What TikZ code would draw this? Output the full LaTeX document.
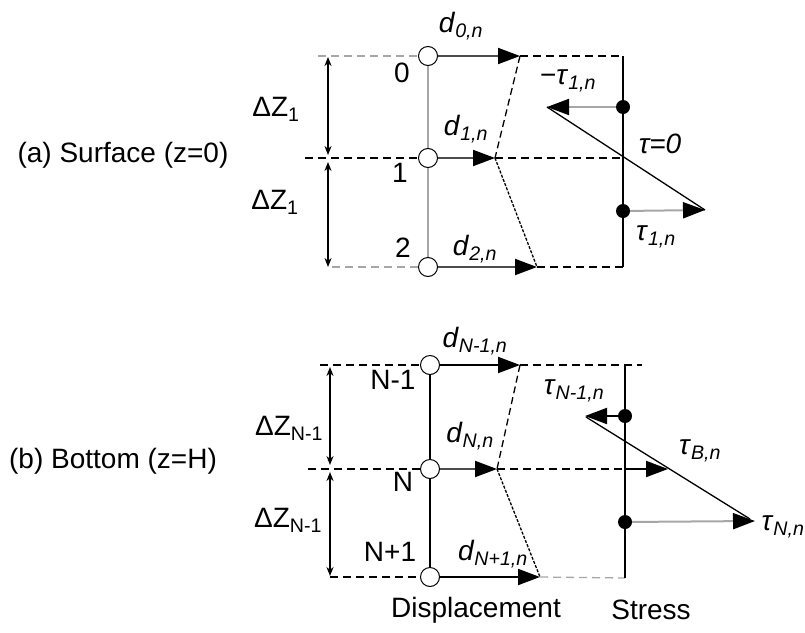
\documentclass[tikz,border=0pt]{standalone}
\usepackage{fontspec}
\setmainfont{Liberation Sans}
\usetikzlibrary{arrows.meta}
\tikzset{
  lab/.style={font=\fontsize{28}{32}\selectfont, inner sep=0pt},
  gnode/.style={circle, draw=black, fill=white, line width=1pt, minimum size=19pt, inner sep=0pt},
  sdot/.style={circle, fill=black, minimum size=14pt, inner sep=0pt},
  bigtip/.tip={Triangle[length=22pt,width=16pt,color=black]},
  disp/.style={-bigtip, line width=2pt, black!70},
  load/.style={-bigtip, line width=2pt, black!35},
  dim/.style={{Stealth[length=9pt,width=7pt]}-{Stealth[length=9pt,width=7pt]}, line width=1.8pt},
  bdash/.style={dash pattern=on 8pt off 5pt, line width=1.3pt},
  gdash/.style={bdash, black!35},
  prof/.style={dash pattern=on 7pt off 4pt, line width=1.3pt},
  axis/.style={line width=1.5pt}
}
\newcommand{\dval}[1]{\textit{d}\textsubscript{\textit{#1}}}
\newcommand{\tval}[1]{\textit{τ}\textsubscript{\textit{#1}}}
\begin{document}
\begin{tikzpicture}[x=1pt,y=-1pt]
  \useasboundingbox (0,0) rectangle (805,632);

  % ---- (a) surface ----
  \node[lab] (capa) at (123,155) {(a) Surface (z=0)};
  \node[gnode] (nd0) at (428,56) {};
  \node[gnode] (nd1) at (428,158) {};
  \node[gnode] (nd2) at (428,267) {};
  \coordinate (lf0) at (318,56);
  \coordinate (lf1) at (305,158);
  \coordinate (lf2) at (332,267);
  \coordinate (tp0) at (520,56);
  \coordinate (tp1) at (495,158);
  \coordinate (tp2) at (537,267);
  \coordinate (st0) at (623,56);
  \coordinate (st1) at (623,158);
  \coordinate (st2) at (623,267);
  \node[sdot] (sd1) at (623,107) {};
  \node[sdot] (sd2) at (623,211) {};
  \coordinate (sl1) at (547,107);
  \coordinate (sr1) at (705,210);
  \coordinate (dz0) at (328,57);
  \coordinate (dz1) at (328,155);
  \coordinate (dz2) at (328,162);
  \coordinate (dz3) at (328,267);

  \draw[black!35, line width=1.5pt] (nd0) -- (nd1);
  \draw[black!35, line width=1.5pt] (nd1) -- (nd2);
  \draw[gdash] (lf0) -- (nd0);
  \draw[bdash] (lf1) -- (nd1);
  \draw[gdash] (lf2) -- (nd2);
  \draw[bdash] (tp0) -- (st0);
  \draw[bdash] (tp1) -- (st1);
  \draw[bdash] (tp2) -- (st2);
  \draw[disp] (nd0) -- (tp0);
  \draw[disp] (nd1) -- (tp1);
  \draw[disp] (nd2) -- (tp2);
  \draw[prof] (tp0) -- (tp1);
  \draw[prof, dash pattern=on 3pt off 1.5pt] (tp1) -- (tp2);
  \draw[dim] (dz0) -- (dz1);
  \draw[dim] (dz2) -- (dz3);
  \draw[axis] (st0) -- (st2);
  \draw[load] (sd1) -- (sl1);
  \draw[load] (sd2) -- (sr1);
  \draw[line width=1.3pt] (sl1) -- (sr1);

  \node[lab] (lb0) at (402,73) {0};
  \node[lab] (lb1) at (400,173) {1};
  \node[lab] (lb2) at (403,248) {2};
  \node[lab] (dl0) at (461,26) {\dval{0,n}};
  \node[lab] (dl1) at (466,129) {\dval{1,n}};
  \node[lab] (dl2) at (475,249) {\dval{2,n}};
  \node[lab] (zl0) at (276,109) {ΔZ\textsubscript{1}};
  \node[lab] (zl1) at (275,202) {ΔZ\textsubscript{1}};
  \node[lab] (tl0) at (568,81) {−\tval{1,n}};
  \node[lab] (tl1) at (660,144) {\textit{τ=0}};
  \node[lab] (tl2) at (656,237) {\tval{1,n}};

  % ---- (b) bottom ----
  \node[lab] (capb) at (113,461) {(b) Bottom (z=H)};
  \node[gnode] (ndA) at (430,365) {};
  \node[gnode] (ndB) at (430,469) {};
  \node[gnode] (ndC) at (430,577) {};
  \coordinate (lfA) at (320,365);
  \coordinate (lfB) at (308,469);
  \coordinate (lfC) at (330,577);
  \coordinate (tpA) at (520,365);
  \coordinate (tpB) at (497,469);
  \coordinate (tpC) at (540,577);
  \coordinate (stA) at (625,365);
  \coordinate (stB) at (625,469);
  \coordinate (stC) at (625,578);
  \coordinate (exA) at (642,365);
  \coordinate (tpS) at (668,469);
  \node[sdot] (sdA) at (625,416) {};
  \node[sdot] (sdC) at (625,522) {};
  \coordinate (slA) at (585,416);
  \coordinate (srC) at (755,521);
  \coordinate (dgA) at (586,417);
  \coordinate (dgC) at (750,519);
  \coordinate (dzA) at (330,367);
  \coordinate (dzB) at (330,465);
  \coordinate (dzC) at (330,472);
  \coordinate (dzD) at (330,576);

  \draw[line width=1.3pt] (ndA) -- (ndB);
  \draw[line width=1.3pt] (ndB) -- (ndC);
  \draw[bdash] (lfA) -- (ndA);
  \draw[bdash] (lfB) -- (ndB);
  \draw[bdash] (lfC) -- (ndC);
  \draw[bdash] (tpA) -- (exA);
  \draw[bdash] (tpB) -- (stB);
  \draw[gdash] (tpC) -- (stC);
  \draw[disp, black] (ndA) -- (tpA);
  \draw[disp] (ndB) -- (tpB);
  \draw[disp, black] (ndC) -- (tpC);
  \draw[prof] (tpA) -- (tpB);
  \draw[prof, dash pattern=on 3pt off 1.5pt] (tpB) -- (tpC);
  \draw[dim] (dzA) -- (dzB);
  \draw[dim] (dzC) -- (dzD);
  \draw[axis] (stA) -- (stC);
  \draw[disp, black] (stB) -- (tpS);
  \draw[load, black] (sdA) -- (slA);
  \draw[load] (sdC) -- (srC);
  \draw[line width=1.3pt] (dgA) -- (dgC);

  \node[lab] (lbA) at (393,380) {N-1};
  \node[lab] (lbB) at (403,482) {N};
  \node[lab] (lbC) at (390,552) {N+1};
  \node[lab] (dlA) at (475,341) {\dval{N-1,n}};
  \node[lab] (dlB) at (470,436) {\dval{N,n}};
  \node[lab] (dlC) at (493,554) {\dval{N+1,n}};
  \node[lab] (zlA) at (289,428) {ΔZ\textsubscript{N-1}};
  \node[lab] (zlB) at (288,520) {ΔZ\textsubscript{N-1}};
  \node[lab] (tlA) at (574,391) {\tval{N-1,n}};
  \node[lab] (tlB) at (700,451) {\tval{B,n}};
  \node[lab] (tlC) at (783,527) {\tval{N,n}};
  \node[lab] (cdsp) at (476,610) {Displacement};
  \node[lab] (cstr) at (651,610) {Stress};
\end{tikzpicture}
\end{document}
